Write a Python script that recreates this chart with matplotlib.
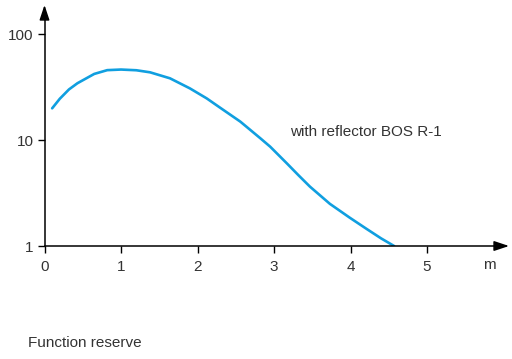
import matplotlib
matplotlib.use("Agg")
import matplotlib.pyplot as plt

distance_m = [0.10, 0.2, 0.32, 0.43, 0.65, 0.82, 1.0, 1.2, 1.38, 1.64, 1.90, 2.12, 2.29, 2.56, 2.82, 2.95, 3.17, 3.32, 3.47, 3.73, 3.99, 4.21, 4.40, 4.57]
function_reserve = [19.9, 24.5, 30.0, 34.3, 42.0, 45.6, 46.2, 45.5, 43.5, 38.2, 30.7, 24.7, 20.3, 14.9, 10.4, 8.65, 6.0, 4.65, 3.63, 2.50, 1.85, 1.45, 1.18, 1.0]
x_ticks = [0, 1, 2, 3, 4, 5]
y_ticks = [1, 10, 100]
y_tick_labels = ["1", "10", "100"]
series_label = "with reflector BOS R-1"
x_unit = "m"
caption = "Function reserve"

plt.rcParams['font.family'] = ['Liberation Sans', 'DejaVu Sans']
W, H = 512, 359
fig = plt.figure(figsize=(W / 100, H / 100), dpi=100)

x0, y0 = 44.5, 246.0
px_per_x = 76.5
px_per_dec = 106.0
right_px, top_px = 496.0, 16.0
ax = fig.add_axes([x0 / W, (H - y0) / H, (right_px - x0) / W, (y0 - top_px) / H])
ax.set_yscale('log')
ax.set_xlim(0, (right_px - x0) / px_per_x)
ax.set_ylim(1, 10 ** ((y0 - top_px) / px_per_dec))

ax.plot(distance_m, function_reserve, color='#109fe0', lw=1.9,
        solid_capstyle='round', solid_joinstyle='round')

for s in ['top', 'right']:
    ax.spines[s].set_visible(False)
for s in ['left', 'bottom']:
    ax.spines[s].set_linewidth(1.1)
    ax.spines[s].set_color('black')

ax.set_xticks(x_ticks)
ax.set_xticklabels([str(t) for t in x_ticks])
ax.set_yticks(y_ticks)
ax.set_yticklabels(y_tick_labels)
ax.minorticks_off()
ax.tick_params(axis='both', direction='out', length=5, width=1.0, color='black',
               labelsize=11, labelcolor='#333333')
ax.tick_params(axis='x', pad=5)
ax.tick_params(axis='y', pad=3)

# arrows on axes
ax.annotate('', xy=(509 / W, (H - y0) / H), xycoords='figure fraction',
            xytext=(right_px / W - 0.001, (H - y0) / H), textcoords='figure fraction',
            arrowprops=dict(arrowstyle='-|>,head_length=0.9,head_width=0.3', color='black', lw=1.1,
                            shrinkA=0, shrinkB=0))
ax.annotate('', xy=(x0 / W, (H - 5) / H), xycoords='figure fraction',
            xytext=(x0 / W, (H - top_px) / H - 0.001), textcoords='figure fraction',
            arrowprops=dict(arrowstyle='-|>,head_length=0.9,head_width=0.3', color='black', lw=1.1,
                            shrinkA=0, shrinkB=0))

fig.text(489 / W, (H - 265) / H, x_unit, ha='center', va='center', fontsize=11, color='#333333')
fig.text(290 / W, (H - 132) / H, series_label, ha='left', va='center', fontsize=11, color='#333333')
fig.text(28 / W, (H - 343) / H, caption, ha='left', va='center', fontsize=11, color='#333333')

fig.savefig('out.png', dpi=100)
